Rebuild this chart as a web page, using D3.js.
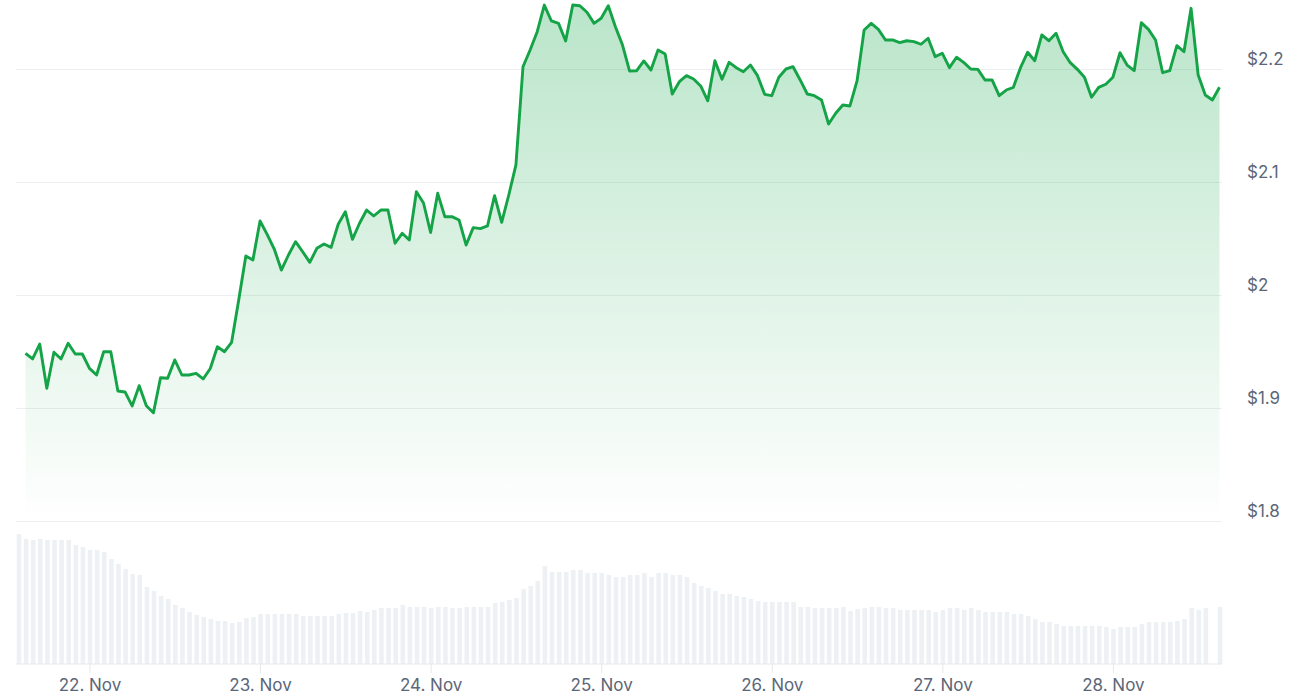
<!DOCTYPE html>
<html>
<head>
    <title>Price chart</title>
    <meta charset="utf-8">
    <script src="https://d3js.org/d3.v7.min.js"></script>
    <style>
        body { margin: 0; background: #fff; }
        text { font-family: Inter, "Noto Sans", sans-serif; }
    </style>
</head>
<body>
<div class="chart-area"></div>
<script type="text/javascript">
    // hourly prices, 21 Nov 15:00 -> 28 Nov 15:00 (UTC)
    var prices = [
        1.9484, 1.9434, 1.9566, 1.9174, 1.9493, 1.9434, 1.9573, 1.9478, 1.9478, 1.9351,
        1.9292, 1.9498, 1.9498, 1.9150, 1.9142, 1.9018, 1.9197, 1.9020, 1.8958, 1.9268,
        1.9263, 1.9425, 1.9292, 1.9292, 1.9307, 1.9257, 1.9350, 1.9542, 1.9498, 1.9581,
        1.9956, 2.0345, 2.0310, 2.0655, 2.0537, 2.0407, 2.0221, 2.0354, 2.0472, 2.0383,
        2.0289, 2.0413, 2.0451, 2.0422, 2.0626, 2.0737, 2.0493, 2.0635, 2.0752, 2.0699,
        2.0752, 2.0752, 2.0458, 2.0546, 2.0487, 2.0914, 2.0814, 2.0553, 2.0900, 2.0693,
        2.0693, 2.0664, 2.0442, 2.0596, 2.0587, 2.0611, 2.0879, 2.0643, 2.0885, 2.1150,
        2.2020, 2.2168, 2.2330, 2.2566, 2.2425, 2.2404, 2.2248, 2.2566, 2.2560, 2.2502,
        2.2404, 2.2449, 2.2560, 2.2374, 2.2212, 2.1982, 2.1985, 2.2071, 2.1991, 2.2168,
        2.2133, 2.1779, 2.1888, 2.1941, 2.1912, 2.1850, 2.1719, 2.2073, 2.1909, 2.2059,
        2.2012, 2.1976, 2.2035, 2.1941, 2.1776, 2.1764, 2.1927, 2.2000, 2.2020, 2.1903,
        2.1779, 2.1764, 2.1726, 2.1513, 2.1608, 2.1681, 2.1673, 2.1894, 2.2345, 2.2404,
        2.2351, 2.2257, 2.2257, 2.2233, 2.2250, 2.2242, 2.2219, 2.2272, 2.2109, 2.2139,
        2.2012, 2.2104, 2.2059, 2.2000, 2.1997, 2.1903, 2.1903, 2.1764, 2.1814, 2.1838,
        2.2012, 2.2148, 2.2073, 2.2301, 2.2250, 2.2316, 2.2153, 2.2056, 2.1997, 2.1927,
        2.1750, 2.1838, 2.1865, 2.1927, 2.2144, 2.2035, 2.1985, 2.2410, 2.2351, 2.2257,
        2.1967, 2.1985, 2.2206, 2.2153, 2.2537, 2.1947, 2.1770, 2.1726, 2.1838
    ];

    // hourly volume (relative), starts one hour before the prices
    var volumes = [
        130, 125, 124, 125, 124, 124, 124, 124, 119, 117, 114, 114, 112, 105, 100, 95, 90,
        89, 77, 73, 68, 65, 59, 56, 52, 49, 47, 45, 43, 43, 41, 42, 46,
        47, 50, 50, 50, 50, 50, 50, 48, 48, 48, 48, 48, 50, 51, 51, 53, 52, 54, 56, 56,
        56, 59, 57, 57, 57, 56, 57, 57, 56, 56, 57, 57, 57, 57, 61, 62, 64, 66, 75, 78,
        83, 98, 92, 92, 92, 94, 94, 91, 91, 91, 89, 87, 87, 89, 89, 91, 87, 91, 91, 89,
        89, 87, 81, 78, 76, 73, 70, 70, 68, 67, 65, 63, 62, 62, 62, 62, 62, 57, 57, 56,
        56, 56, 56, 57, 53, 55, 56, 57, 57, 56, 56, 54, 54, 54, 54, 54, 52, 54, 56, 56,
        54, 56, 54, 52, 52, 52, 52, 50, 50, 48, 45, 42, 42, 40, 38, 38, 38, 38, 38, 38,
        37, 35, 37, 37, 37, 40, 42, 42, 42, 42, 43, 45, 56, 54, 56, 0, 57
    ];

    var priceTicks = [1.8, 1.9, 2.0, 2.1, 2.2];
    var dayTicks = ["2024-11-22", "2024-11-23", "2024-11-24", "2024-11-25", "2024-11-26", "2024-11-27", "2024-11-28"];
    var priceStart = "2024-11-21T15:00";
    var volumeStart = "2024-11-21T14:00";

    var W = 1300, H = 700;
    var plotLeft = 16, plotRight = 1222;
    var lineLeft = 25.5, lineRight = 1219.5;
    var priceTop = 69, priceBottom = 521;
    var volTop = 534, volBottom = 664;

    var parseHour = d3.utcParse("%Y-%m-%dT%H:%M"),
        parseDay = d3.utcParse("%Y-%m-%d");

    var t0 = parseHour(priceStart);
    var priceData = prices.map(function(p, i) {
        return { date: d3.utcHour.offset(t0, i), value: p };
    });
    var v0 = parseHour(volumeStart);
    var volData = volumes.map(function(v, i) {
        return { date: d3.utcHour.offset(v0, i), value: v };
    });

    var svg = d3.select(".chart-area")
        .append("svg")
        .attr("width", W)
        .attr("height", H);

    var xScale = d3.scaleUtc()
        .domain([priceData[0].date, priceData[priceData.length - 1].date])
        .range([lineLeft, lineRight]);

    var yScale = d3.scaleLinear()
        .domain([1.8, 2.2])
        .range([priceBottom, priceTop]);

    var yVol = d3.scaleLinear()
        .domain([0, 130])
        .range([volBottom, volTop]);

    var defs = svg.append("defs");
    var grad = defs.append("linearGradient")
        .attr("id", "areaFill")
        .attr("gradientUnits", "userSpaceOnUse")
        .attr("x1", 0).attr("x2", 0)
        .attr("y1", 0).attr("y2", priceBottom);
    grad.append("stop").attr("offset", "0%").attr("stop-color", "#16a84b").attr("stop-opacity", 0.3);
    grad.append("stop").attr("offset", "100%").attr("stop-color", "#16a84b").attr("stop-opacity", 0);

    // grid lines
    var grid = svg.append("g")
        .attr("transform", "translate(" + plotLeft + ",0)")
        .call(d3.axisLeft(yScale)
            .tickValues(priceTicks)
            .tickSize(-(plotRight - plotLeft))
            .tickFormat(""));
    grid.select(".domain").remove();
    grid.selectAll("line").attr("stroke", "#eceef1").attr("stroke-width", 1);

    // volume bars
    var barW = 4.6;
    svg.append("g")
        .selectAll("rect")
        .data(volData)
        .enter()
        .append("rect")
        .attr("x", function(d) { return xScale(d.date) - barW / 2 + 0.6; })
        .attr("y", function(d) { return yVol(d.value); })
        .attr("width", barW)
        .attr("height", function(d) { return yVol(0) - yVol(d.value); })
        .attr("fill", "#eef1f4");

    // price area + line
    var area = d3.area()
        .x(function(d) { return xScale(d.date); })
        .y0(priceBottom)
        .y1(function(d) { return yScale(d.value); });

    var line = d3.line()
        .x(function(d) { return xScale(d.date); })
        .y(function(d) { return yScale(d.value); });

    svg.append("path")
        .datum(priceData)
        .attr("d", area)
        .attr("fill", "url(#areaFill)");

    svg.append("path")
        .datum(priceData)
        .attr("d", line)
        .attr("fill", "none")
        .attr("stroke", "#14a346")
        .attr("stroke-width", 2.9)
        .attr("stroke-linejoin", "round");

    // x axis
    var xAxis = svg.append("g")
        .attr("transform", "translate(0," + volBottom + ")")
        .call(d3.axisBottom(xScale)
            .tickValues(dayTicks.map(function(d) { return parseDay(d); }))
            .tickSize(9)
            .tickPadding(6)
            .tickFormat(d3.utcFormat("%-d. %b")));
    xAxis.select(".domain").remove();
    xAxis.selectAll(".tick line").attr("stroke", "#e6e8ec");
    xAxis.selectAll("text")
        .attr("fill", "#5b6678")
        .style("font-size", "17px");

    svg.append("line")
        .attr("x1", plotLeft).attr("x2", plotRight)
        .attr("y1", volBottom).attr("y2", volBottom)
        .attr("stroke", "#e6e8ec");

    // y axis labels
    var yAxis = svg.append("g")
        .attr("transform", "translate(1247,0)")
        .call(d3.axisRight(yScale)
            .tickValues(priceTicks)
            .tickSize(0)
            .tickPadding(0)
            .tickFormat(function(d) { return "$" + d3.format("~g")(d); }));
    yAxis.select(".domain").remove();
    yAxis.selectAll("text")
        .attr("dy", "-0.28em")
        .attr("fill", "#5b6678")
        .style("font-size", "17px");
</script>
</body>
</html>
